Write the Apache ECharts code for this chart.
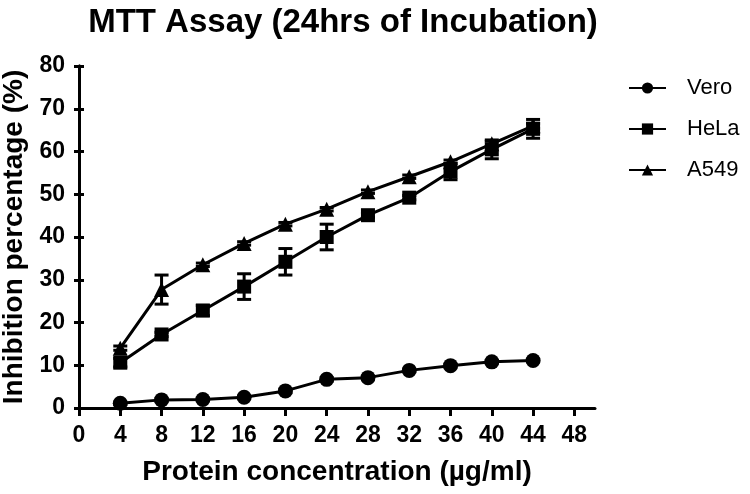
<!DOCTYPE html>
<html>
<head>
<meta charset="utf-8">
<script src="https://cdn.jsdelivr.net/npm/echarts@6/dist/echarts.min.js"></script>
<style>html,body{margin:0;padding:0;background:#fff}#c{width:750px;height:494px}</style>
</head>
<body>
<div id="c"></div>
<script>
const concentrations = [4, 8, 12, 16, 20, 24, 28, 32, 36, 40, 44];
const vero = [1.1, 1.9, 2.0, 2.5, 4.0, 6.7, 7.1, 8.8, 9.9, 10.8, 11.1];
const veroErr = [0.3, 0.3, 0.3, 0.3, 0.4, 0.4, 0.3, 0.3, 0.3, 0.3, 0.3];
const hela = [10.6, 17.2, 22.8, 28.4, 34.2, 40.0, 45.1, 49.2, 55.3, 60.5, 65.3];
const helaErr = [1.0, 0.5, 1.2, 3.0, 3.1, 3.0, 0.5, 0.5, 1.9, 2.2, 2.2];
const a549 = [14.0, 27.7, 33.5, 38.5, 43.0, 46.5, 50.6, 54.1, 57.6, 61.8, 66.0];
const a549Err = [0.5, 3.4, 0.4, 0.4, 0.4, 0.4, 0.4, 0.4, 0.4, 0.6, 0.6];
const xTicks = [0, 4, 8, 12, 16, 20, 24, 28, 32, 36, 40, 44, 48];
const yTicks = [0, 10, 20, 30, 40, 50, 60, 70, 80];

const FONT = "'Liberation Sans', Arial, sans-serif";

function pairs(ys) { return concentrations.map((x, i) => [x, ys[i]]); }
function errData(ys, es) { return concentrations.map((x, i) => [x, ys[i] - es[i], ys[i] + es[i]]); }

function errorSeries(ys, es) {
  return {
    type: 'custom',
    silent: true,
    z: 1,
    data: errData(ys, es),
    renderItem: function (params, api) {
      const x = api.value(0);
      const lo = api.coord([x, api.value(1)]);
      const hi = api.coord([x, api.value(2)]);
      const hw = 7;
      const st = { stroke: '#000', lineWidth: 3 };
      return {
        type: 'group',
        children: [
          { type: 'line', shape: { x1: lo[0], y1: lo[1], x2: hi[0], y2: hi[1] }, style: st },
          { type: 'line', shape: { x1: lo[0] - hw, y1: lo[1], x2: lo[0] + hw, y2: lo[1] }, style: st },
          { type: 'line', shape: { x1: hi[0] - hw, y1: hi[1], x2: hi[0] + hw, y2: hi[1] }, style: st }
        ]
      };
    }
  };
}

function lineSeries(name, ys, symbol, size) {
  return {
    name: name,
    type: 'line',
    data: pairs(ys),
    symbol: symbol,
    symbolSize: size,
    showAllSymbol: true,
    z: 3,
    lineStyle: { color: '#000', width: 3 },
    itemStyle: { color: '#000', borderWidth: 0 },
    emphasis: { disabled: true },
    animation: false
  };
}

const chart = echarts.init(document.getElementById('c'), null, { renderer: 'canvas' });
const yAxisBase = {
  type: 'value', min: 0, max: 80, interval: 10,
  axisLine: { show: true, lineStyle: { color: '#000', width: 3 } },
  splitLine: { show: false }
};
chart.setOption({
  animation: false,
  backgroundColor: '#fff',
  title: {
    text: 'MTT Assay (24hrs of Incubation)',
    left: 338, top: 1, textAlign: 'center',
    textStyle: { fontFamily: FONT, fontWeight: 'bold', fontSize: 33, color: '#000' }
  },
  legend: {
    orient: 'vertical', left: 628, top: 77, padding: 0, itemWidth: 37, itemHeight: 14, itemGap: 19,
    textStyle: { fontFamily: FONT, fontSize: 22, color: '#000', padding: [0, 0, 0, 16] },
    data: ['Vero', 'HeLa', 'A549']
  },
  grid: { left: 79, right: 155, top: 66, bottom: 86, containLabel: false, outerBoundsMode: 'none' },
  xAxis: {
    type: 'value', min: 0, max: 50,
    name: 'Protein concentration (\u00b5g/ml)', nameLocation: 'middle', nameGap: 50,
    nameTextStyle: { fontFamily: FONT, fontWeight: 'bold', fontSize: 28, color: '#000' },
    axisLine: { lineStyle: { color: '#000', width: 3 } },
    axisTick: { show: true, length: 8, lineStyle: { width: 3, color: '#000' }, customValues: xTicks },
    axisLabel: { customValues: xTicks, fontFamily: FONT, fontWeight: 'bold', fontSize: 23, color: '#000', margin: 16 },
    splitLine: { show: false }
  },
  yAxis: [
    Object.assign({}, yAxisBase, {
      name: 'Inhibition percentage (%)', nameLocation: 'middle', nameGap: 51,
      nameTextStyle: { fontFamily: FONT, fontWeight: 'bold', fontSize: 28, color: '#000' },
      axisTick: { show: true, length: 5, lineStyle: { width: 3, color: '#000' } },
      axisLabel: { fontFamily: FONT, fontWeight: 'bold', fontSize: 23, color: '#000', margin: 14 }
    }),
    Object.assign({}, yAxisBase, {
      position: 'left',
      axisTick: { show: true, inside: true, length: 5, lineStyle: { width: 3, color: '#000' } },
      axisLabel: { show: false }
    })
  ],
  series: [
    errorSeries(vero, veroErr),
    errorSeries(hela, helaErr),
    errorSeries(a549, a549Err),
    lineSeries('Vero', vero, 'circle', 15),
    lineSeries('HeLa', hela, 'rect', 14),
    lineSeries('A549', a549, 'triangle', 15)
  ]
});
</script>
</body>
</html>
